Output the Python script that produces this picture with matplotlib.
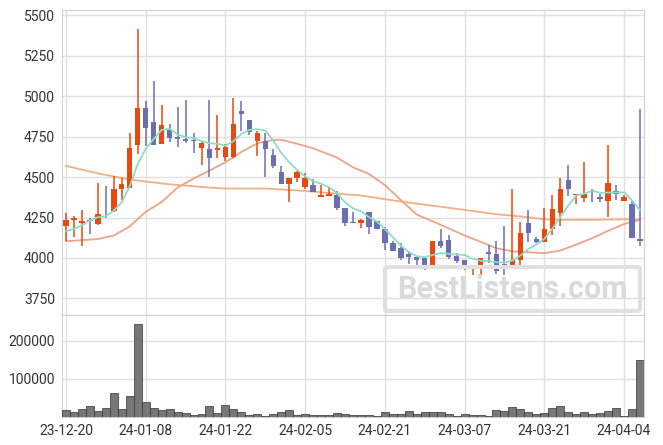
import matplotlib
matplotlib.use("Agg")
import matplotlib.pyplot as plt
import numpy as np
from matplotlib.patches import FancyBboxPatch

plt.rcParams['font.family'] = ['Roboto', 'DejaVu Sans']

# tick labels every 10 trading days
tick_idx = [0, 10, 20, 30, 40, 50, 60, 70]
tick_labels = ['23-12-20', '24-01-08', '24-01-22', '24-02-05',
               '24-02-21', '24-03-07', '24-03-21', '24-04-04']

opens = [4196, 4233, 4215, 4235, 4209, 4287, 4289, 4425, 4433, 4696,
         4927, 4842, 4705, 4799, 4744, 4737, 4727, 4678, 4670, 4665,
         4622, 4622, 4910, 4849, 4721, 4725, 4633, 4528, 4456, 4493,
         4441, 4453, 4375, 4381, 4392, 4309, 4225, 4215, 4281, 4231,
         4182, 4095, 4062, 4025, 4007, 3997, 3941, 4102, 4114, 4015,
         3990, 3937, 3943, 4034, 4027, 3960, 3943, 3986, 4213, 4120,
         4099, 4178, 4276, 4484, 4388, 4371, 4416, 4375, 4351, 4416,
         4351, 4336, 4120]
closes = [4235, 4250, 4231, 4229, 4272, 4281, 4427, 4454, 4682, 4923,
          4801, 4698, 4824, 4742, 4733, 4723, 4723, 4713, 4616, 4682,
          4688, 4828, 4888, 4775, 4772, 4672, 4567, 4456, 4495, 4534,
          4491, 4406, 4392, 4394, 4307, 4215, 4213, 4237, 4190, 4178,
          4093, 4046, 3999, 4005, 3990, 3943, 4104, 4071, 4005, 3980,
          3943, 3947, 3997, 4023, 3918, 3943, 3988, 4157, 4155, 4097,
          4182, 4305, 4429, 4425, 4398, 4394, 4410, 4363, 4460, 4394,
          4377, 4122, 4104]
highs = [4276, 4260, 4297, 4244, 4464, 4445, 4505, 4495, 4770, 5415,
         4972, 5094, 4945, 4828, 4933, 4976, 4772, 4719, 4976, 4884,
         4702, 4989, 4972, 4849, 4781, 4770, 4676, 4569, 4495, 4540,
         4523, 4488, 4453, 4433, 4416, 4309, 4287, 4240, 4287, 4231,
         4194, 4104, 4091, 4046, 4007, 3997, 4108, 4180, 4139, 4032,
         3990, 3958, 4001, 4081, 4108, 4196, 4427, 4225, 4297, 4128,
         4309, 4390, 4495, 4577, 4398, 4593, 4427, 4398, 4698, 4451,
         4388, 4355, 4921]
lows = [4102, 4128, 4075, 4149, 4205, 4248, 4285, 4355, 4433, 4643,
        4692, 4698, 4705, 4719, 4688, 4709, 4649, 4575, 4499, 4618,
        4600, 4615, 4787, 4762, 4630, 4497, 4556, 4456, 4344, 4468,
        4427, 4406, 4375, 4381, 4297, 4196, 4213, 4186, 4149, 4178,
        4050, 4046, 3988, 3964, 3943, 3927, 3941, 4060, 3995, 3970,
        3927, 3898, 3898, 3968, 3902, 3898, 3943, 3953, 4099, 4093,
        4099, 4139, 4200, 4383, 4334, 4344, 4344, 4344, 4252, 4359,
        4351, 4122, 4075]
volumes = [16700, 11400, 19300, 27200, 14000, 21900, 61400, 19300, 53500, 243000,
           37700, 21900, 16700, 19300, 11400, 8800, 4400, 6100, 27200, 8800,
           29800, 19300, 11400, 3500, 6100, 2600, 6100, 11400, 16700, 3500,
           6100, 3500, 3500, 3500, 8800, 6100, 3500, 3500, 3500, 1800,
           11400, 6100, 6100, 14000, 6100, 11400, 11400, 11400, 6100, 900,
           6100, 3500, 3500, 900, 16700, 14000, 24600, 19300, 11400, 6100,
           8800, 21900, 27200, 11400, 6100, 11400, 6100, 8800, 14000, 21900,
           2600, 19300, 148200]

ma5 = [4165, 4180, 4202, 4231, 4252, 4258, 4293, 4344, 4443, 4581,
       4674, 4735, 4791, 4797, 4762, 4746, 4740, 4721, 4709, 4705,
       4694, 4721, 4766, 4791, 4795, 4787, 4725, 4649, 4591, 4544,
       4503, 4474, 4458, 4437, 4400, 4344, 4306, 4289, 4252, 4225,
       4180, 4128, 4077, 4036, 4011, 4005, 4019, 4030, 4025, 4021,
       4019, 3995, 3984, 3980, 3974, 3972, 3984, 4015, 4056, 4083,
       4118, 4180, 4252, 4324, 4386, 4396, 4416, 4402, 4404, 4404,
       4406, 4355, 4297]

ma20_idx = [0, 2, 4, 6, 8, 10, 12, 14, 16, 18, 20, 22, 24, 26, 27, 29, 31, 34,
            36, 38, 40, 42, 44, 47, 50, 52, 54, 56, 60, 62, 64, 66, 68, 70, 72]
ma20 = [4104, 4110, 4117, 4139, 4195, 4285, 4345, 4435, 4490, 4540, 4591, 4655,
        4708, 4729, 4730, 4705, 4677, 4620, 4560, 4519, 4450, 4358, 4268, 4205,
        4139, 4100, 4060, 4041, 4030, 4046, 4083, 4122, 4168, 4210, 4235]

ma60_idx = [0, 4, 8, 10, 13, 15, 18, 20, 25, 30, 35, 37, 40, 43, 46, 50, 54,
            58, 60, 62, 66, 70, 72]
ma60 = [4569, 4522, 4485, 4472, 4455, 4447, 4435, 4429, 4429, 4414, 4393, 4386,
        4363, 4342, 4323, 4297, 4270, 4252, 4239, 4235, 4235, 4239, 4237]

up_color = '#e8490f'
down_color = '#6b6fb0'
grid_color = '#e0e0e0'

fig = plt.figure(figsize=(6.63, 4.45), dpi=100)
ax = fig.add_axes([0.0935, 0.2921, 0.8778, 0.6854])
axv = fig.add_axes([0.0935, 0.0636, 0.8778, 0.2285], sharex=ax)

x = np.arange(len(opens))
o = np.array(opens)
c = np.array(closes)
up = c >= o
colors = np.where(up, up_color, down_color)

ax.vlines(x, lows, highs, colors=colors, linewidth=1.1, zorder=3)
body_h = np.maximum(np.abs(c - o), 6)
ax.bar(x, body_h, bottom=np.minimum(o, c), width=0.68, color=colors,
       linewidth=0, zorder=4)

ax.plot(ma60_idx, ma60, color='#f1b084', linewidth=1.3, zorder=2)
ax.plot(ma20_idx, ma20, color='#eea488', linewidth=1.3, zorder=2)
ax.plot(x, ma5, color='#8fdcc2', linewidth=1.3, zorder=5)

axv.bar(x, volumes, width=1.0, color='#777777', edgecolor='#333333',
        linewidth=0.5, zorder=3)

for a in (ax, axv):
    a.grid(True, color=grid_color, linewidth=1)
    a.set_axisbelow(True)
    for s in a.spines.values():
        s.set_color('#d0d0d0')
    a.tick_params(length=0, labelsize=10, labelcolor='#333333', pad=5)

ax.set_xlim(-0.5, 72.5)
ax.set_ylim(3648, 5531)
ax.set_yticks([3750, 4000, 4250, 4500, 4750, 5000, 5250, 5500])
ax.set_xticks(tick_idx)
ax.tick_params(labelbottom=False)

axv.set_ylim(0, 267600)
axv.set_yticks([100000, 200000])
axv.set_xticks(tick_idx)
axv.set_xticklabels(tick_labels)

# watermark
box = FancyBboxPatch((385 / 663, 1 - 311 / 445), 255 / 663, 44 / 445,
                     boxstyle="round,pad=0,rounding_size=0.005",
                     transform=fig.transFigure, facecolor='none',
                     edgecolor='#e0e0e0', linewidth=3, zorder=10)
fig.patches.append(box)
fig.text(512 / 663, 1 - 289 / 445, 'BestListens.com', fontsize=22,
         fontweight='bold', color='#dadada', ha='center', va='center',
         zorder=11)

fig.savefig('out.png', dpi=100)
